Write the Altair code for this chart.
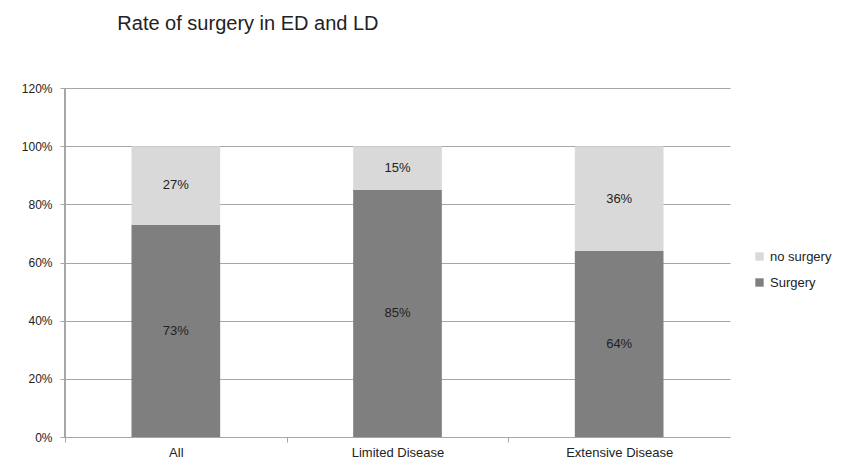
import altair as alt
import pandas as pd

categories = ["All", "Limited Disease", "Extensive Disease"]
surgery = [73, 85, 64]
no_surgery = [27, 15, 36]
series = ["no surgery", "Surgery"]
colors = ["#d9d9d9", "#7f7f7f"]

rows = []
for c, s, n in zip(categories, surgery, no_surgery):
    rows.append({"cat": c, "group": "Surgery", "value": s / 100, "ord": 0})
    rows.append({"cat": c, "group": "no surgery", "value": n / 100, "ord": 1})
df = pd.DataFrame(rows)

font = "Liberation Sans"

base = alt.Chart(df).transform_stack(
    stack="value", groupby=["cat"], as_=["y0", "y1"], sort=[alt.SortField("ord", order="ascending")]
).transform_calculate(
    mid="(datum.y0 + datum.y1) / 2",
    label="format(datum.value, '.0%')",
)

xaxis = alt.Axis(labelAngle=0, labelFont=font, labelFontSize=13, labelColor="#222",
                 domainColor="#a6a6a6", ticks=True, tickColor="#a6a6a6", tickSize=5,
                 tickOffset=-110.8, labelOffset=110.8, labelPadding=4, grid=False)
yaxis = alt.Axis(values=[0, 0.2, 0.4, 0.6, 0.8, 1.0, 1.2], format=".0%",
                 labelFont=font, labelFontSize=12, labelColor="#222",
                 gridColor="#a6a6a6", domain=False, tickColor="#a6a6a6",
                 tickSize=5, labelPadding=8)
xscale = alt.Scale(paddingInner=0.6, paddingOuter=0.3)
yscale = alt.Scale(domain=[0, 1.2])

bars = base.mark_bar().encode(
    x=alt.X("cat:N", sort=categories, title=None, scale=xscale, axis=xaxis),
    y=alt.Y("y0:Q", title=None, scale=yscale, axis=yaxis),
    y2="y1:Q",
    color=alt.Color("group:N", scale=alt.Scale(domain=series, range=colors),
                    legend=alt.Legend(title=None, orient="none", legendX=688, legendY=162,
                                      symbolType="square", symbolSize=70, symbolStrokeWidth=0,
                                      labelFont=font, labelFontSize=13, labelColor="#222",
                                      rowPadding=12)),
)

labels = base.mark_text(font=font, fontSize=13, color="#222").encode(
    x=alt.X("cat:N", sort=categories, title=None, scale=xscale, axis=xaxis),
    y=alt.Y("mid:Q", title=None, scale=yscale, axis=yaxis),
    text="label:N",
)

yline = alt.Chart(df).mark_rule(color="#a6a6a6").encode(
    x=alt.value(0), y=alt.value(0), y2=alt.value(349)
)

chart = alt.layer(bars, labels, yline).properties(
    width=665, height=349,
    title=alt.TitleParams("Rate of surgery in ED and LD", anchor="start", dx=96, offset=48,
                          font=font, fontSize=20, fontWeight="normal", color="#222"),
    autosize=alt.AutoSizeParams(type="none"),
    padding={"left": 65, "top": 88, "right": 129, "bottom": 26},
).configure(background="white").configure_view(strokeOpacity=0, strokeWidth=0)

chart.save("out.html", embed_options={"renderer": "svg", "actions": False})
